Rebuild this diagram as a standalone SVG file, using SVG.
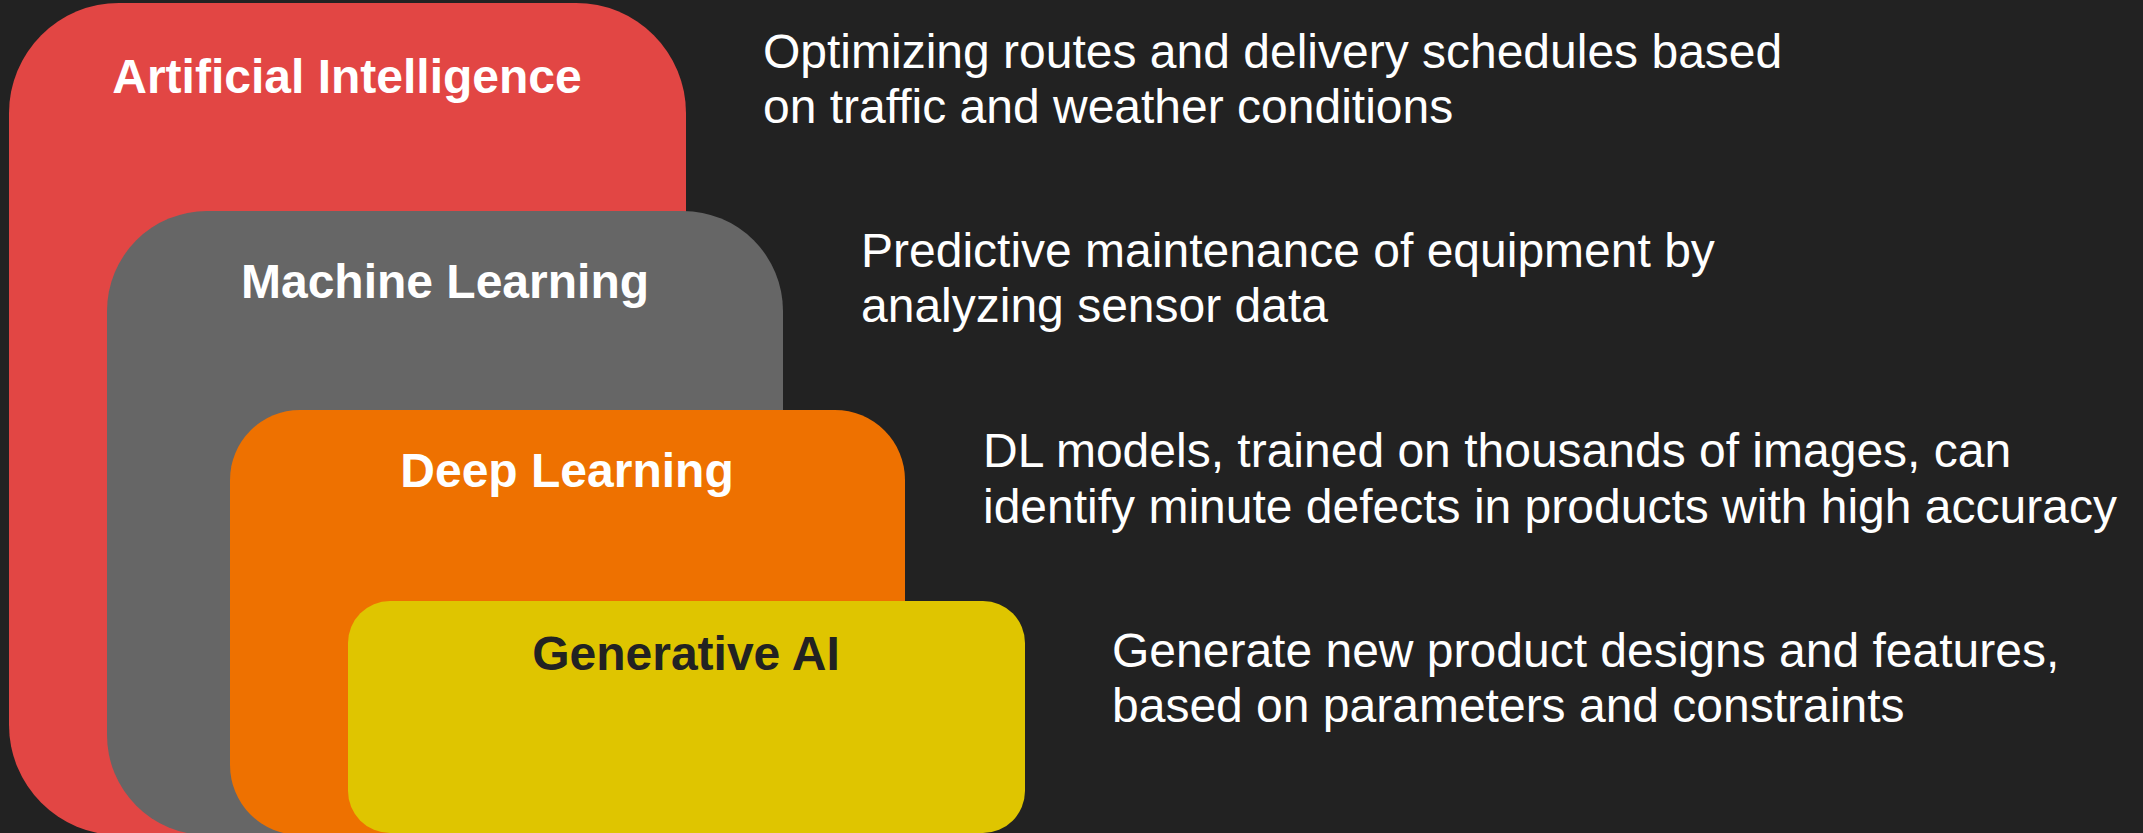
<svg xmlns="http://www.w3.org/2000/svg" width="2143" height="833" viewBox="0 0 2143 833">
<style>
.title{font-family:"Liberation Sans",Arial,sans-serif;font-weight:bold;font-size:48px;text-anchor:middle}
.desc{font-family:"Liberation Sans",Arial,sans-serif;font-size:48px;fill:#ffffff}
</style>
<rect x="0" y="0" width="2143" height="833" fill="#222222"/>
<g id="ai">
<rect x="9" y="3" width="677" height="832" rx="110" ry="110" fill="#E24644"/>
<text class="title" x="347" y="93" fill="#ffffff">Artificial Intelligence</text>
</g>
<g id="ml">
<rect x="107" y="211" width="676" height="624" rx="100" ry="100" fill="#666666"/>
<text class="title" x="445" y="298" fill="#ffffff">Machine Learning</text>
</g>
<g id="dl">
<rect x="230" y="410" width="675" height="425" rx="70" ry="70" fill="#EE7100"/>
<text class="title" x="567" y="487" fill="#ffffff">Deep Learning</text>
</g>
<g id="genai">
<rect x="348" y="601" width="677" height="232" rx="42" ry="42" fill="#DFC500"/>
<text class="title" x="686" y="670" fill="#222222">Generative AI</text>
</g>
<g id="connectors"></g>
<g id="desc-ai">
<text class="desc" x="763" y="68">Optimizing routes and delivery schedules based</text>
<text class="desc" x="763" y="123">on traffic and weather conditions</text>
</g>
<g id="desc-ml">
<text class="desc" x="861" y="267">Predictive maintenance of equipment by</text>
<text class="desc" x="861" y="322">analyzing sensor data</text>
</g>
<g id="desc-dl">
<text class="desc" x="983" y="467">DL models, trained on thousands of images, can</text>
<text class="desc" x="983" y="523">identify minute defects in products with high accuracy</text>
</g>
<g id="desc-genai">
<text class="desc" x="1112" y="667">Generate new product designs and features,</text>
<text class="desc" x="1112" y="722">based on parameters and constraints</text>
</g>
</svg>
